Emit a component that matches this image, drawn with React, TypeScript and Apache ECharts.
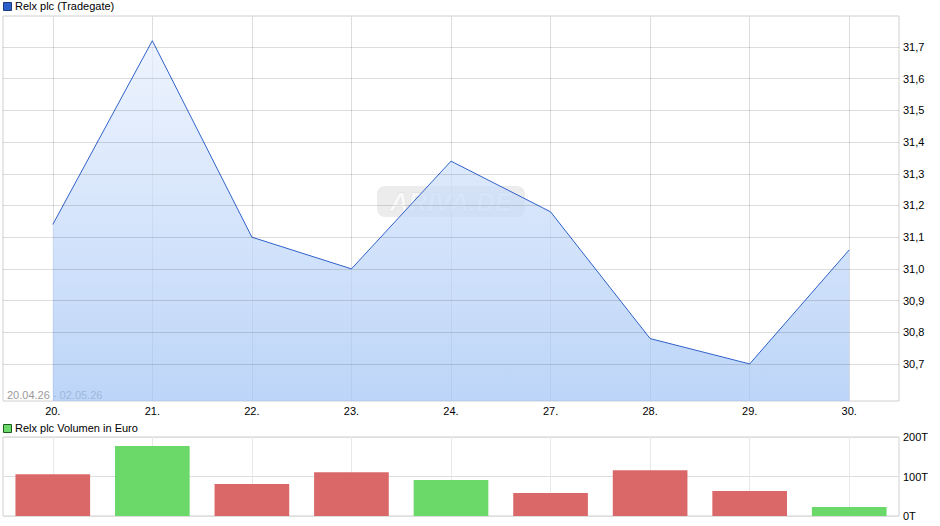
import React, { useEffect, useRef } from "react";
import * as echarts from "echarts";

const categories = ["20.", "21.", "22.", "23.", "24.", "27.", "28.", "29.", "30."];
const prices = [31.14, 31.72, 31.1, 31.0, 31.34, 31.18, 30.78, 30.7, 31.06];
const priceTicks = [30.7, 30.8, 30.9, 31.0, 31.1, 31.2, 31.3, 31.4, 31.5, 31.6, 31.7];
const volumes = [106, 177, 81, 111, 91, 58, 116, 63, 23];
const volumeUp = [false, true, false, false, true, false, false, false, true];
const priceTitle = "Relx plc (Tradegate)";
const volumeTitle = "Relx plc Volumen in Euro";
const dateRange = "20.04.26 - 02.05.26";

const FONT = "'Liberation Sans', Arial, sans-serif";

export default function App() {
  const ref = useRef<HTMLDivElement>(null);
  useEffect(() => {
    if (!ref.current) return;
    const chart = echarts.init(ref.current, undefined, { renderer: "svg" });
    const gridLine = { show: true, lineStyle: { color: "#dddddd", width: 1 } };
    const shown = (v: number) => priceTicks.some((t) => Math.abs(t - v) < 1e-6);
    chart.setOption({
      animation: false,
      textStyle: { fontFamily: FONT },
      grid: [
        { left: 3, top: 16, width: 896, height: 385, show: true, borderColor: "#d0d0d0", borderWidth: 1, backgroundColor: "transparent" },
        { left: 3, top: 437, width: 896, height: 79, show: true, borderColor: "#d0d0d0", borderWidth: 1, backgroundColor: "transparent" },
      ],
      xAxis: [
        {
          type: "category", gridIndex: 0, data: categories, boundaryGap: true,
          axisLine: { show: false }, axisTick: { show: false },
          axisLabel: { color: "#000", fontSize: 11, fontFamily: FONT, margin: 4 },
          splitLine: { ...gridLine, alignWithLabel: true },
        },
        {
          type: "category", gridIndex: 1, data: categories, boundaryGap: true,
          axisLine: { show: false }, axisTick: { show: false },
          axisLabel: { show: false },
          splitLine: { show: true, alignWithLabel: true, lineStyle: { color: "#e8e8e8", width: 1 } },
        },
      ],
      yAxis: [
        {
          type: "value", gridIndex: 0, position: "right", min: 30.583, max: 31.798, splitNumber: 12,
          axisLine: { show: false }, axisTick: { show: false },
          showMinLabel: false, showMaxLabel: false,
          axisLabel: {
            color: "#000", fontSize: 11, fontFamily: FONT, margin: 4,
            formatter: (v: number) => (shown(v) ? (Math.round(v * 10) / 10).toFixed(1).replace(".", ",") : ""),
          },
          splitLine: { show: false },
        },
        {
          type: "value", gridIndex: 1, position: "right", min: 0, max: 200, interval: 100,
          axisLine: { show: false }, axisTick: { show: false },
          axisLabel: { color: "#000", fontSize: 11, fontFamily: FONT, margin: 4, formatter: (v: number) => v + "T" },
          splitLine: gridLine,
        },
      ],
      series: [
        {
          type: "line", xAxisIndex: 0, yAxisIndex: 0, data: prices, symbol: "none",
          lineStyle: { color: "#2f62c8", width: 1 },
          areaStyle: {
            origin: "start",
            opacity: 1,
            color: new echarts.graphic.LinearGradient(0, 0, 0, 1, [
              { offset: 0, color: "rgba(231,239,254,0.7)" },
              { offset: 1, color: "rgba(160,195,245,0.7)" },
            ]),
          },
          markLine: {
            silent: true,
            symbol: "none",
            label: { show: false },
            lineStyle: { color: "rgba(0,0,0,0.135)", type: "solid", width: 1 },
            data: priceTicks.map((t) => ({ yAxis: t })),
          },
          z: 3,
        },
        {
          type: "bar", xAxisIndex: 1, yAxisIndex: 1, barCategoryGap: "25%",
          data: volumes.map((v, i) => ({ value: v, itemStyle: { color: volumeUp[i] ? "#6ad96a" : "#da6868" } })),
        },
      ],
      graphic: [
        { type: "rect", left: 3, top: 2, shape: { width: 8, height: 8 }, style: { fill: "#2c5fc9", stroke: "#1a3a80", lineWidth: 1 } },
        { type: "text", left: 15, top: 0, style: { text: priceTitle, font: `11px ${FONT}`, fill: "#000" } },
        { type: "rect", left: 3, top: 424, shape: { width: 8, height: 8 }, style: { fill: "#6ad96a", stroke: "#1d5a1d", lineWidth: 1 } },
        { type: "text", left: 15, top: 422, style: { text: volumeTitle, font: `11px ${FONT}`, fill: "#000" } },
        { type: "text", left: 7, top: 389, style: { text: dateRange, font: `11px ${FONT}`, fill: "#9a9a9a" } },
        {
          type: "group", left: 377, top: 186, z: 10,
          children: [
            { type: "rect", shape: { x: 0, y: 0, width: 148, height: 31, r: 8 }, style: { fill: "rgba(170,170,170,0.22)" } },
            { type: "text", x: 74, y: 16, style: { text: "ARIVA.DE", font: `italic bold 26px ${FONT}`, fill: "rgba(255,255,255,0.7)", stroke: "rgba(190,190,190,0.3)", lineWidth: 1, align: "center", verticalAlign: "middle" } },
          ],
        },
      ],
    });
    return () => chart.dispose();
  }, []);
  return <div ref={ref} style={{ position: "fixed", left: 0, top: 0, width: 940, height: 526, background: "#fff" }} />;
}
